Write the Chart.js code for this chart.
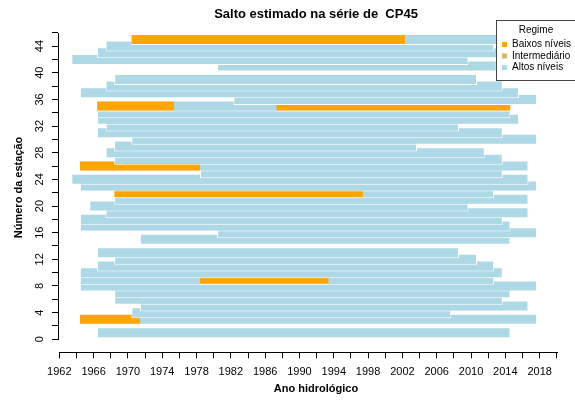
<!DOCTYPE html>
<html>
<head>
<meta charset="utf-8">
<script src="https://cdn.jsdelivr.net/npm/chart.js@4/dist/chart.umd.min.js"></script>
<style>
  html, body { margin: 0; padding: 0; background: #fff; }
  #caixa { width: 575px; height: 400px; }
</style>
</head>
<body>
<div id="caixa"><canvas id="saltoCP45"></canvas></div>
<script>
// periodo com registo de cada estacao (ano hidrologico)
const estacoes = [45, 44, 43, 42, 41, 39, 38, 37, 36, 35, 34, 33, 32, 31, 30, 29, 28, 27, 26, 25, 24,
                  23, 22, 21, 20, 19, 18, 17, 16, 15, 13, 12, 11, 10, 9, 8, 7, 6, 5, 4, 3, 1];
const anoInicio = [1970.4, 1967.4, 1966.4, 1963.4, 1980.4, 1968.4, 1967.4, 1964.4, 1982.3, 1966.4, 1966.4,
                   1966.4, 1967.4, 1966.4, 1970.4, 1968.4, 1967.4, 1968.4, 1964.4, 1978.4, 1963.4,
                   1964.4, 1968.4, 1968.4, 1965.5, 1967.4, 1964.4, 1964.4, 1980.4, 1971.4, 1966.4,
                   1968.4, 1966.4, 1964.4, 1964.4, 1964.4, 1968.4, 1968.4, 1971.4, 1970.4, 1964.4, 1966.4];
const anoFim = [2014.6, 2012.7, 2016.0, 2009.7, 2013.0, 2010.7, 2013.7, 2015.6, 2017.7, 2014.6, 2014.6,
                2015.6, 2008.6, 2013.7, 2017.7, 2003.7, 2011.6, 2013.7, 2016.7, 2013.7, 2016.7,
                2017.7, 2012.7, 2016.7, 2009.7, 2016.7, 2013.7, 2014.6, 2017.7, 2014.6, 2008.6,
                2010.7, 2012.7, 2013.7, 2012.7, 2017.7, 2014.6, 2013.7, 2016.7, 2007.7, 2017.7, 2014.6];

// trocos em regime de baixos niveis
const baixosEstacao = [45, 35, 35, 26, 22, 9, 3];
const baixosInicio = [1970.4, 1966.4, 1987.3, 1964.4, 1968.4, 1978.4, 1964.4];
const baixosFim = [2002.3, 1975.4, 2014.6, 1978.4, 1997.4, 1993.4, 1971.4];

const regimes = ["Baixos níveis", "Intermediário", "Altos níveis"];
const coresRegime = ["#FFA500", "#D2B96E", "#ADD8E6"];

const xTicks = [1962, 1964, 1966, 1968, 1970, 1972, 1974, 1976, 1978, 1980, 1982, 1984, 1986, 1988, 1990,
                1992, 1994, 1996, 1998, 2000, 2002, 2004, 2006, 2008, 2010, 2012, 2014, 2016, 2018, 2020];
const xLabels = [1962, 1966, 1970, 1974, 1978, 1982, 1986, 1990, 1994, 1998, 2002, 2006, 2010, 2014, 2018];
const yTicks = [0, 2, 4, 6, 8, 10, 12, 14, 16, 18, 20, 22, 24, 26, 28, 30, 32, 34, 36, 38, 40, 42, 44, 46];
const yLabels = [0, 4, 8, 12, 16, 20, 24, 28, 32, 36, 40, 44];

// cada estacao desenhada por ordem crescente: primeiro a barra toda, depois os trocos baixos por cima
const ordem = estacoes.map((e, i) => i).sort((a, b) => estacoes[a] - estacoes[b]);
const pontos = [];
const cores = [];
const bordas = [];
ordem.forEach(i => {
  pontos.push({ x: [anoInicio[i], anoFim[i]], y: estacoes[i] });
  cores.push(coresRegime[2]);
  bordas.push(1);
  baixosEstacao.forEach((e, j) => {
    if (e === estacoes[i]) {
      pontos.push({ x: [baixosInicio[j], baixosFim[j]], y: e });
      cores.push(coresRegime[0]);
      bordas.push({ top: 1, bottom: 1, left: 0, right: 0 });
    }
  });
});

Chart.defaults.font.family = "'Liberation Sans', Arial, sans-serif";
Chart.defaults.color = '#000';

// eixos ao estilo do R: a linha so vai do primeiro ao ultimo traco
const eixos = {
  id: 'eixos',
  afterDraw(chart) {
    const { x, y } = chart.scales;
    const ctx = chart.ctx;
    const yb = Math.round(chart.chartArea.bottom) + 0.5;
    const xl = Math.round(chart.chartArea.left) + 0.5;
    ctx.save();
    ctx.strokeStyle = '#000';
    ctx.lineWidth = 1;
    ctx.beginPath();
    ctx.moveTo(Math.round(x.getPixelForValue(xTicks[0])), yb);
    ctx.lineTo(Math.round(x.getPixelForValue(xTicks[xTicks.length - 1])) + 1, yb);
    ctx.moveTo(xl, Math.round(y.getPixelForValue(yTicks[0])) + 1);
    ctx.lineTo(xl, Math.round(y.getPixelForValue(yTicks[yTicks.length - 1])));
    ctx.stroke();
    ctx.restore();
  }
};

// caixa da legenda no canto superior direito
const legenda = {
  id: 'legenda',
  afterDraw(chart) {
    const ctx = chart.ctx;
    ctx.save();
    ctx.fillStyle = '#fff';
    ctx.fillRect(496, 20, 90, 60);
    ctx.strokeStyle = '#444';
    ctx.lineWidth = 1;
    ctx.strokeRect(496.5, 20.5, 90, 60);
    ctx.font = "10px 'Liberation Sans', Arial, sans-serif";
    ctx.fillStyle = '#000';
    ctx.textBaseline = 'middle';
    ctx.textAlign = 'center';
    ctx.fillText('Regime', 536, 30);
    ctx.textAlign = 'left';
    regimes.forEach((r, i) => {
      const yy = 44.5 + i * 11.5;
      ctx.fillStyle = coresRegime[i];
      ctx.fillRect(502, yy - 2.5, 5, 5);
      ctx.fillStyle = '#000';
      ctx.fillText(r, 512, yy);
    });
    ctx.restore();
  }
};

new Chart('saltoCP45', {
  type: 'bar',
  data: {
    datasets: [{
      data: pontos,
      backgroundColor: cores,
      borderColor: '#fff',
      borderWidth: bordas,
      borderSkipped: false,
      inflateAmount: 0,
      barThickness: 11,
      grouped: false
    }]
  },
  options: {
    indexAxis: 'y',
    responsive: true,
    maintainAspectRatio: false,
    animation: false,
    events: [],
    layout: { padding: { left: 4, right: 1, top: 0, bottom: 0 } },
    plugins: {
      legend: { display: false },
      tooltip: { enabled: false },
      title: {
        display: true,
        fullSize: false,
        text: 'Salto estimado na série de  CP45',
        font: { size: 13, weight: 'bold' },
        padding: { top: 7, bottom: 0 }
      }
    },
    scales: {
      x: {
        type: 'linear',
        position: 'bottom',
        min: 1961.848,
        max: 2022.006,
        offset: false,
        afterFit: s => { s.height = 47.7; },
        afterBuildTicks: s => { s.ticks = xTicks.map(v => ({ value: v })); },
        border: { display: false },
        grid: { display: true, drawOnChartArea: false, drawTicks: true, tickLength: 6, color: '#000', offset: false },
        ticks: {
          autoSkip: false,
          maxRotation: 0,
          padding: 7,
          font: { size: 11 },
          callback: v => (xLabels.includes(v) ? String(v) : '')
        },
        title: {
          display: true,
          text: 'Ano hidrológico',
          font: { size: 11, weight: 'bold' },
          padding: { top: 0, bottom: 4.4 }
        }
      },
      y: {
        type: 'linear',
        min: -1.95,
        max: 47.52,
        offset: false,
        afterFit: s => { s.width = 54; },
        afterBuildTicks: s => { s.ticks = yTicks.map(v => ({ value: v })); },
        border: { display: false },
        grid: { display: true, drawOnChartArea: false, drawTicks: true, tickLength: 6, color: '#000', offset: false },
        ticks: {
          autoSkip: false,
          minRotation: 90,
          maxRotation: 90,
          crossAlign: 'center',
          padding: 6,
          font: { size: 11 },
          callback: v => (yLabels.includes(v) ? String(v) : '')
        },
        title: {
          display: true,
          text: 'Número da estação',
          font: { size: 11, weight: 'bold' },
          padding: { top: 8.4, bottom: 0 }
        }
      }
    }
  },
  plugins: [eixos, legenda]
});
</script>
</body>
</html>
